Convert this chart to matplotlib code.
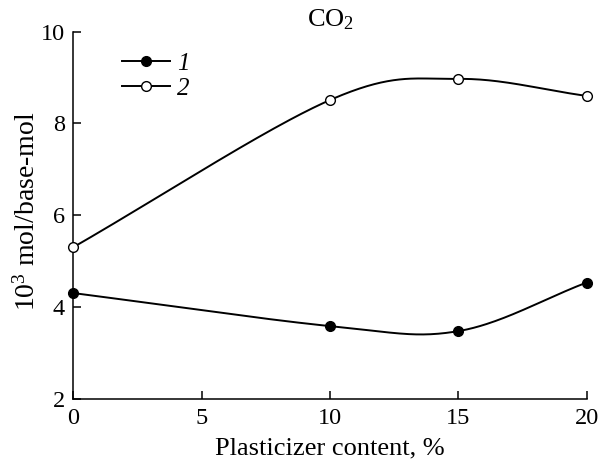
import numpy as np
import matplotlib
matplotlib.use("Agg")
import matplotlib.pyplot as plt
from matplotlib.lines import Line2D

plt.rcParams['font.family'] = ['Liberation Serif', 'DejaVu Serif']
plt.rcParams['mathtext.fontset'] = 'custom'
plt.rcParams['mathtext.rm'] = 'Liberation Serif'
plt.rcParams['mathtext.it'] = 'Liberation Serif:italic'

x_vals = [0, 10, 15, 20]
series1 = [4.30, 3.58, 3.47, 4.53]
series2 = [5.30, 8.51, 8.97, 8.60]
labels = ['1', '2']
xticks = [0, 5, 10, 15, 20]
yticks = [2, 4, 6, 8, 10]


def smooth_curve(x, y, n=60):
    """Catmull-Rom style Bezier smoothing through the given points."""
    P = np.column_stack([np.asarray(x, float), np.asarray(y, float)])
    k = len(P)
    T = np.zeros_like(P)
    T[0] = P[1] - P[0]
    T[-1] = P[-1] - P[-2]
    for i in range(1, k - 1):
        T[i] = (P[i + 1] - P[i - 1]) / 2
    out = []
    t = np.linspace(0, 1, n)[:, None]
    for i in range(k - 1):
        b0 = P[i]; b1 = P[i] + T[i] / 3; b2 = P[i + 1] - T[i + 1] / 3; b3 = P[i + 1]
        seg = ((1 - t) ** 3) * b0 + 3 * ((1 - t) ** 2) * t * b1 + 3 * (1 - t) * t ** 2 * b2 + t ** 3 * b3
        out.append(seg if i == 0 else seg[1:])
    out = np.vstack(out)
    return out[:, 0], out[:, 1]


fig = plt.figure(figsize=(6.02, 4.62), dpi=100)
ax = fig.add_axes([0.1218, 0.1374, 0.8528, 0.794])

for ys, face in [(series1, 'black'), (series2, 'white')]:
    sx, sy = smooth_curve(x_vals, ys)
    ax.plot(sx, sy, color='black', lw=1.4, zorder=2)
    ax.plot(x_vals, ys, 'o', ms=7, mfc=face, mec='black', mew=1.0, zorder=3, clip_on=False)

ax.set_xlim(0, 20)
ax.set_ylim(2, 10)
ax.set_xticks(xticks)
ax.set_yticks(yticks)
ax.spines['top'].set_visible(False)
ax.spines['right'].set_visible(False)
for s in ['left', 'bottom']:
    ax.spines[s].set_linewidth(1.1)
ax.tick_params(direction='in', length=6, width=1.1, labelsize=17.5)
ax.tick_params(axis='x', pad=7)
ax.tick_params(axis='y', pad=6)
ax.set_xlabel('Plasticizer content, %', fontsize=19, labelpad=6)
ax.set_ylabel('10$^3$ mol/base-mol', fontsize=20)
ax.yaxis.set_label_coords(-0.063, 0.51)
ax.set_title('CO$_2$', fontsize=19, pad=-7)

handles = [Line2D([], [], color='black', lw=1.4, marker='o', ms=7, mfc='black', mec='black'),
           Line2D([], [], color='black', lw=1.4, marker='o', ms=7, mfc='white', mec='black')]
leg = ax.legend(handles, labels, loc='upper left', bbox_to_anchor=(0.076, 0.97), frameon=False,
                handlelength=1.9, prop={'style': 'italic', 'size': 18}, labelspacing=0.08,
                handletextpad=0.3, borderaxespad=0.0)
fig.savefig('out.png', dpi=100)
